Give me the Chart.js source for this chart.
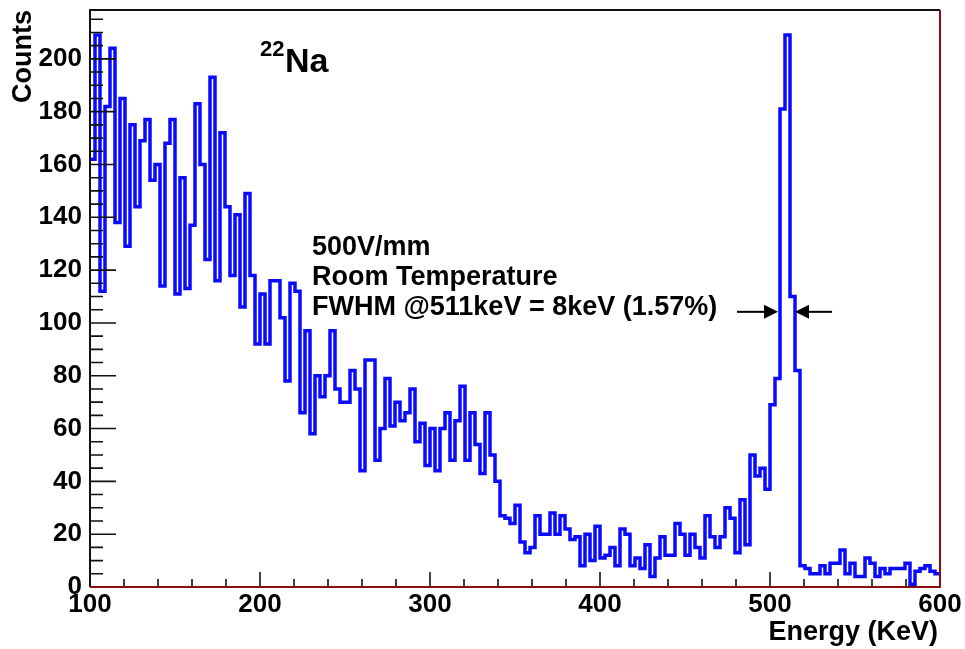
<!DOCTYPE html>
<html><head><meta charset="utf-8">
<script src="https://cdn.jsdelivr.net/npm/chart.js@4.4.1/dist/chart.umd.min.js"></script>
<style>html,body{margin:0;padding:0;background:#fff;}canvas{display:block}</style>
</head><body>
<canvas id="c" width="965" height="649"></canvas>
<script>
// ---- data ----
const X_MIN = 100, X_MAX = 600, N_BINS = 170;
const Y_MAX = 218.5;
// counts per bin, 100 -> 232 keV
const countsLow = [162,209,112,182,204,138,185,129,175,144,
  169,177,154,160,114,168,177,111,155,113,
  137,183,160,124,193,116,172,144,118,141,
  106,149,118,92,111,92,116,116,102,78,
  115,112,66,97,58];
// 232 -> 344 keV
const countsMid = [80,72,80,97,75,70,70,82,75,44,
  86,86,48,60,79,61,70,63,66,75,
  55,62,46,60,44,60,66,48,63,76,
  48,66,54,43,66,50,40,27];
// 344 -> 500 keV
const countsCompton = [26,24,31,17,13,15,27,20,20,28,
  20,27,22,18,19,8,20,10,23,11,
  12,15,8,22,20,8,11,7,16,4,
  11,19,12,12,24,20,12,20,15,11,
  27,19,15,19,30,26,13,33,16,50,
  42,45,37];
// 500 -> 518 keV (photopeak)
const countsPeak = [69,79,181,209,110,82];
// 518 -> 600 keV
const countsTail = [8,7,5,5,8,5,9,9,14,5,9,4,4,11,9,4,7,5,7,7,7,9,1,6,7,8,6,5];

const xTickValues = [100,200,300,400,500,600];
const yTickValues = [0,20,40,60,80,100,120,140,160,180,200];
const infoLines = ["500V/mm", "Room Temperature", "FWHM @511keV = 8keV (1.57%)"];
const fwhmLevel = 104.2;
const fwhmLeftArrow = [480.6, 504.7];   // tail, tip (keV)
const fwhmRightArrow = [536.5, 514.7];  // tail, tip (keV)

// ---- build histogram points (bin left edges, stepped) ----
const counts = countsLow.concat(countsMid, countsCompton, countsPeak, countsTail);
const binWidth = (X_MAX - X_MIN) / N_BINS;
const points = counts.map((c, i) => ({x: X_MIN + i * binWidth, y: c}));
points.push({x: X_MAX, y: counts[counts.length - 1]});

const FONT = '"Liberation Sans", Arial, Helvetica, sans-serif';

const rootPlugin = {
  id: 'rootStyle',
  afterDatasetsDraw(chart) {
    const {ctx, chartArea: a, scales} = chart;
    const xs = scales.x, ys = scales.y;
    ctx.save();
    // ticks (inside the frame, ROOT style)
    ctx.strokeStyle = '#111';
    ctx.lineWidth = 1.6;
    ctx.beginPath();
    for (let v = 0; v <= Y_MAX; v += 5) {
      const py = ys.getPixelForValue(v);
      const len = (v % 20 === 0) ? 26 : 13;
      ctx.moveTo(a.left, py); ctx.lineTo(a.left + len, py);
    }
    for (let v = X_MIN; v <= X_MAX; v += 20) {
      const px = xs.getPixelForValue(v);
      const len = (v % 100 === 0) ? 15 : 8;
      ctx.moveTo(px, a.bottom); ctx.lineTo(px, a.bottom - len);
    }
    ctx.stroke();
    // frame
    ctx.lineWidth = 2;
    ctx.strokeStyle = '#111';
    ctx.beginPath();
    ctx.moveTo(a.left, a.bottom); ctx.lineTo(a.left, a.top); ctx.lineTo(a.right, a.top);
    ctx.stroke();
    ctx.strokeStyle = '#8b0d0d';
    ctx.beginPath();
    ctx.moveTo(a.left, a.bottom); ctx.lineTo(a.right, a.bottom); ctx.lineTo(a.right, a.top);
    ctx.stroke();
    ctx.restore();
  },
  afterDraw(chart) {
    const {ctx, chartArea: a, scales} = chart;
    const xs = scales.x, ys = scales.y;
    ctx.save();
    ctx.fillStyle = '#000';
    // axis titles
    ctx.font = 'bold 27px ' + FONT;
    ctx.textAlign = 'right';
    ctx.textBaseline = 'alphabetic';
    ctx.fillText('Energy (KeV)', a.right - 2, 640);
    ctx.save();
    ctx.translate(31, a.top);
    ctx.rotate(-Math.PI / 2);
    ctx.fillText('Counts', 0, 0);
    ctx.restore();
    // isotope label
    ctx.textAlign = 'left';
    ctx.font = 'bold 22px ' + FONT;
    ctx.fillText('22', 260, 56);
    ctx.font = 'bold 34px ' + FONT;
    ctx.fillText('Na', 285, 72);
    // info text
    ctx.font = 'bold 27px ' + FONT;
    infoLines.forEach((t, i) => ctx.fillText(t, 312, 255 + i * 30));
    // FWHM arrows
    const py = ys.getPixelForValue(fwhmLevel);
    const drawArrow = (tailKeV, tipKeV) => {
      const x0 = xs.getPixelForValue(tailKeV), x1 = xs.getPixelForValue(tipKeV);
      const dir = Math.sign(x1 - x0);
      ctx.strokeStyle = '#000';
      ctx.lineWidth = 2;
      ctx.beginPath(); ctx.moveTo(x0, py); ctx.lineTo(x1 - dir * 10, py); ctx.stroke();
      ctx.beginPath();
      ctx.moveTo(x1, py);
      ctx.lineTo(x1 - dir * 14, py - 7);
      ctx.lineTo(x1 - dir * 14, py + 7);
      ctx.closePath(); ctx.fill();
    };
    drawArrow(fwhmLeftArrow[0], fwhmLeftArrow[1]);
    drawArrow(fwhmRightArrow[0], fwhmRightArrow[1]);
    ctx.restore();
  }
};

new Chart(document.getElementById('c'), {
  type: 'line',
  data: {
    datasets: [{
      data: points,
      stepped: true,
      borderColor: '#0a0aff',
      borderWidth: 3.5,
      pointRadius: 0,
      fill: false,
      tension: 0
    }]
  },
  options: {
    responsive: false,
    animation: false,
    events: [],
    layout: {padding: {left: 0, right: 25, top: 10, bottom: 0}},
    plugins: {legend: {display: false}, tooltip: {enabled: false}, title: {display: false}},
    scales: {
      x: {
        type: 'linear', min: X_MIN, max: X_MAX,
        grid: {display: false, drawTicks: false},
        border: {display: false},
        afterBuildTicks: s => { s.ticks = xTickValues.map(v => ({value: v})); },
        afterFit: s => { s.height = 62; s.paddingLeft = 0; s.paddingRight = 0; },
        ticks: {color: '#000', font: {family: FONT, size: 26, weight: 'bold'}, padding: 2, maxRotation: 0, autoSkip: false}
      },
      y: {
        type: 'linear', min: 0, max: Y_MAX,
        grid: {display: false, drawTicks: false},
        border: {display: false},
        afterBuildTicks: s => { s.ticks = yTickValues.map(v => ({value: v})); },
        afterFit: s => { s.width = 90; s.paddingTop = 0; s.paddingBottom = 0; },
        ticks: {color: '#000', font: {family: FONT, size: 26, weight: 'bold'}, padding: 8, autoSkip: false}
      }
    }
  },
  plugins: [rootPlugin]
});
</script>
</body></html>
